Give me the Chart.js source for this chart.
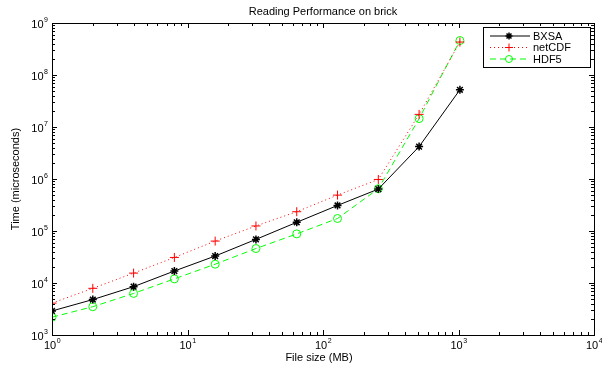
<!DOCTYPE html>
<html>
<head>
<meta charset="utf-8">
<script src="https://cdn.jsdelivr.net/npm/chart.js@4"></script>
<style>
  html, body { margin: 0; padding: 0; background: #fff; }
  #wrap { width: 602px; height: 365px; }
</style>
</head>
<body>
<div id="wrap"><canvas id="perfChart"></canvas></div>
<script>
// file sizes in MB and read times in microseconds
const fileSizes = [1, 2, 4, 8, 16, 32, 64, 128, 256, 512, 1024];
const bxsaTimes = [2900, 4800, 8500, 17000, 33000, 69000, 147000, 310000, 640000, 4200000, 52000000];
const netcdfTimes = [4100, 7900, 15500, 31000, 64000, 125000, 235000, 490000, 980000, 17500000, 430000000];
const hdf5Times = [2200, 3500, 6300, 12000, 23000, 46000, 88000, 174000, 650000, 14500000, 460000000];

const xTickExps = [0, 1, 2, 3, 4];
const yTickExps = [3, 4, 5, 6, 7, 8, 9];

const FONT = '"Liberation Sans", Arial, Helvetica, sans-serif';

function toPoints(ys) {
  return fileSizes.map((x, i) => ({ x: x, y: ys[i] }));
}

// draws the matlab style frame, ticks, labels and legend
const matlabAxes = {
  id: 'matlabAxes',
  afterDraw(chart) {
    const ctx = chart.ctx;
    const a = chart.chartArea;
    const xs = chart.scales.x;
    const ys = chart.scales.y;
    ctx.save();
    ctx.strokeStyle = '#000';
    ctx.fillStyle = '#000';
    ctx.lineWidth = 1;

    // ticks on all four sides, pointing in
    ctx.beginPath();
    xTickExps.forEach((e, idx) => {
      for (let m = 1; m <= 9; m++) {
        if (m > 1 && idx === xTickExps.length - 1) break;
        const px = Math.round(xs.getPixelForValue(m * Math.pow(10, e))) + 0.5;
        const len = m === 1 ? 5 : 3;
        ctx.moveTo(px, a.bottom); ctx.lineTo(px, a.bottom - len);
        ctx.moveTo(px, a.top); ctx.lineTo(px, a.top + len);
      }
    });
    yTickExps.forEach((e, idx) => {
      for (let m = 1; m <= 9; m++) {
        if (m > 1 && idx === yTickExps.length - 1) break;
        const py = Math.round(ys.getPixelForValue(m * Math.pow(10, e))) + 0.5;
        const len = m === 1 ? 5 : 3;
        ctx.moveTo(a.left, py); ctx.lineTo(a.left + len, py);
        ctx.moveTo(a.right, py); ctx.lineTo(a.right - len, py);
      }
    });
    ctx.stroke();

    // frame
    ctx.strokeRect(Math.round(a.left) + 0.5, Math.round(a.top) + 0.5,
      Math.round(a.right - a.left), Math.round(a.bottom - a.top));

    // tick labels as 10^n
    ctx.textBaseline = 'alphabetic';
    xTickExps.forEach(e => {
      const px = xs.getPixelForValue(Math.pow(10, e));
      ctx.font = '11px ' + FONT;
      const w1 = ctx.measureText('10').width;
      ctx.font = '7px ' + FONT;
      const w2 = ctx.measureText(String(e)).width;
      const x0 = px - (w1 + w2) / 2;
      ctx.font = '11px ' + FONT;
      ctx.textAlign = 'left';
      ctx.fillText('10', x0, a.bottom + 14);
      ctx.font = '7px ' + FONT;
      ctx.fillText(String(e), x0 + w1 + 0.5, a.bottom + 8);
    });
    yTickExps.forEach(e => {
      const py = ys.getPixelForValue(Math.pow(10, e));
      ctx.font = '7px ' + FONT;
      const w2 = ctx.measureText(String(e)).width;
      ctx.textAlign = 'left';
      const xe = a.left - 4 - w2;
      ctx.fillText(String(e), xe, py - 1);
      ctx.font = '11px ' + FONT;
      ctx.textAlign = 'right';
      ctx.fillText('10', xe - 0.5, py + 5);
    });

    // title and axis titles
    ctx.font = '11px ' + FONT;
    ctx.textAlign = 'center';
    ctx.fillText('Reading Performance on brick', (a.left + a.right) / 2, 15);
    ctx.fillText('File size (MB)', (a.left + a.right) / 2 - 4, 361);
    ctx.save();
    ctx.translate(19, (a.top + a.bottom) / 2);
    ctx.rotate(-Math.PI / 2);
    ctx.fillText('Time (microseconds)', 0, 0);
    ctx.restore();

    // legend box
    const lx = 483, ly = 27, lw = 107, lh = 40;
    ctx.fillStyle = '#fff';
    ctx.fillRect(lx, ly, lw, lh);
    ctx.strokeStyle = '#000';
    ctx.strokeRect(lx + 0.5, ly + 0.5, lw, lh);
    chart.data.datasets.forEach((ds, i) => {
      const ry = ly + 9 + i * 11.5;
      ctx.save();
      ctx.strokeStyle = ds.borderColor;
      ctx.lineWidth = 1;
      ctx.setLineDash(ds.borderDash || []);
      ctx.beginPath();
      ctx.moveTo(lx + 7, ry);
      ctx.lineTo(lx + 47, ry);
      ctx.stroke();
      ctx.setLineDash([]);
      ctx.strokeStyle = ds.borderColor;
      ctx.fillStyle = 'rgba(0,0,0,0)';
      ctx.lineWidth = ds.pointBorderWidth;
      Chart.helpers.drawPoint(ctx, {
        pointStyle: ds.pointStyle,
        radius: ds.pointRadius - 0.5,
        borderWidth: ds.pointBorderWidth,
        rotation: 0
      }, lx + 26, ry);
      ctx.restore();
      ctx.fillStyle = '#000';
      ctx.font = '11px ' + FONT;
      ctx.textAlign = 'left';
      ctx.textBaseline = 'middle';
      ctx.fillText(ds.label, lx + 50, ry + 0.5);
    });
    ctx.restore();
  }
};

new Chart(document.getElementById('perfChart'), {
  type: 'scatter',
  data: {
    datasets: [
      {
        label: 'BXSA',
        data: toPoints(bxsaTimes),
        showLine: true,
        borderColor: '#000000',
        backgroundColor: 'transparent',
        borderWidth: 1,
        pointStyle: 'star',
        pointRadius: 4,
        pointBorderWidth: 1.5
      },
      {
        label: 'netCDF',
        data: toPoints(netcdfTimes),
        showLine: true,
        borderColor: '#ff0000',
        backgroundColor: 'transparent',
        borderWidth: 1,
        borderDash: [1, 3],
        pointStyle: 'cross',
        pointRadius: 4.5,
        pointBorderWidth: 1
      },
      {
        label: 'HDF5',
        data: toPoints(hdf5Times),
        showLine: true,
        borderColor: '#00ff00',
        backgroundColor: 'transparent',
        borderWidth: 1,
        borderDash: [6, 4],
        pointStyle: 'circle',
        pointRadius: 4,
        pointBorderWidth: 1
      }
    ]
  },
  options: {
    responsive: true,
    maintainAspectRatio: false,
    animation: false,
    layout: { padding: { left: 52, right: 8, top: 23, bottom: 30 } },
    plugins: {
      legend: { display: false },
      title: { display: false },
      tooltip: { enabled: false }
    },
    scales: {
      x: { type: 'logarithmic', min: 1, max: 10000, display: false },
      y: { type: 'logarithmic', min: 1000, max: 1000000000, display: false }
    }
  },
  plugins: [matlabAxes]
});
</script>
</body>
</html>
